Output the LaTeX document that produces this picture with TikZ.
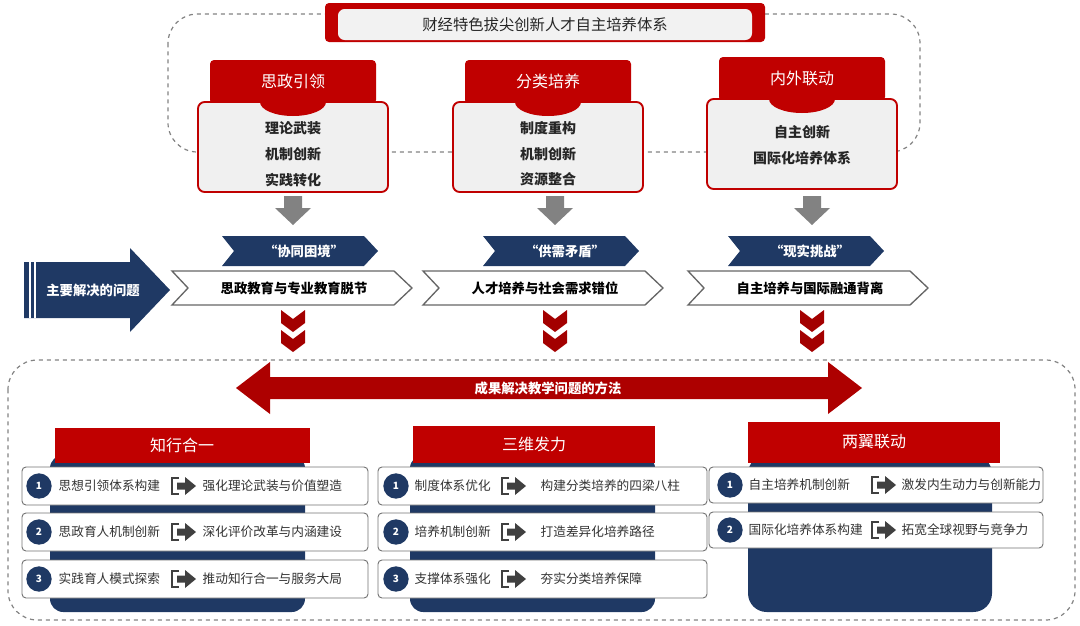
\documentclass[tikz,border=0pt]{standalone}
\usepackage{fontspec}
\setmainfont{Noto Sans CJK SC}
\usetikzlibrary{shapes.symbols}
\definecolor{zred}{RGB}{192,0,0}
\definecolor{znavy}{RGB}{31,57,100}
\definecolor{zgrey}{RGB}{130,130,130}
\definecolor{zicon}{RGB}{64,64,64}
\tikzset{
  dashframe/.style={draw=zgrey,dashed,line width=0.9pt,rounded corners=22},
  redhead/.style={fill=zred,draw=none},
  cardbox/.style={draw=zred,fill=white!94!black,line width=1.4pt,rounded corners=5},
  cardtext/.style={font=\fontsize{10.5}{12}\selectfont\bfseries,text=black!85},
  headtext/.style={font=\fontsize{12}{14}\selectfont,text=white},
  rowbox/.style={draw=black!55,fill=white,line width=0.7pt,rounded corners=3},
  rowtext/.style={font=\fontsize{9.5}{11}\selectfont,text=black!80,anchor=west},
  numdot/.style={circle,fill=znavy,text=white,inner sep=0pt,minimum size=19pt,font=\fontsize{7.5}{9}\selectfont\bfseries},
  boldtext/.style={font=\fontsize{10}{12}\selectfont\bfseries}
}
\newcommand\goicon[2]{%
  \begin{scope}[shift={(#1,#2)}]
    \draw[zicon,line width=2.2pt] (7,-8) -- (0,-8) -- (0,8) -- (7,8);
    \fill[zicon] (5,-3.5) -- (13,-3.5) -- (13,-9) -- (24,0) -- (13,9) -- (13,3.5) -- (5,3.5) -- cycle;
  \end{scope}}
\begin{document}
\begin{tikzpicture}[x=0.75pt,y=0.75pt,yscale=-1,xscale=1]
\useasboundingbox (0,0) rectangle (1080,625);

%Upper frame and title
\draw[dashframe] (168,14) rectangle (920,152);
\fill[zred,rounded corners=3] (325,3) rectangle (765,42);
\fill[white!95!black,rounded corners=5] (338,9) rectangle (752,40);
\node[font=\fontsize{11.5}{13}\selectfont,text=black!85] (title) at (545,25) {财经特色拔尖创新人才自主培养体系};

%Cards
\foreach \cx/\cy/\name/\ttl in {293/60/sz/思政引领,548/60/fl/分类培养,802/57/nw/内外联动}{
  \fill[redhead,rounded corners=3] (\cx-83,\cy) rectangle (\cx+83,\cy+44);
  \draw[cardbox] (\cx-95,\cy+42) rectangle (\cx+95,\cy+132);
  \fill[zred] (\cx-33,\cy+42) arc (180:0:33 and 14) -- cycle;
  \node[headtext] (\name) at (\cx,\cy+21) {\ttl};
}
\node[cardtext] (sz1) at (293,128) {理论武装};
\node[cardtext] (sz2) at (293,154) {机制创新};
\node[cardtext] (sz3) at (293,180) {实践转化};
\node[cardtext] (fl1) at (548,128) {制度重构};
\node[cardtext] (fl2) at (548,154) {机制创新};
\node[cardtext] (fl3) at (548,179) {资源整合};
\node[cardtext] (nw1) at (802,132) {自主创新};
\node[cardtext] (nw2) at (802,158) {国际化培养体系};

%Grey arrows
\foreach \ax in {293,555,812}{
  \fill[zgrey] (\ax-9,196) -- (\ax+9,196) -- (\ax+9,208) -- (\ax+18,208) -- (\ax,225) -- (\ax-18,208) -- (\ax-9,208) -- cycle;
}

%Blue chevron labels
\foreach \lx/\name/\txt in {300/c1/“协同困境”,561/c2/“供需矛盾”,806/c3/“现实挑战”}{
  \fill[znavy] (\lx-78,236) -- (\lx+64,236) -- (\lx+78,251) -- (\lx+64,266) -- (\lx-78,266) -- (\lx-66,251) -- cycle;
  \node[boldtext,text=white] (\name) at (\lx+4,251) {\txt};
}

%White chevron boxes
\foreach \bx/\name/\txt in {172/p1/思政教育与专业教育脱节,423/p2/人才培养与社会需求错位,688/p3/自主培养与国际融通背离}{
  \draw[black!60,fill=white,line width=1pt] (\bx,271) -- (\bx+222,271) -- (\bx+240,288) -- (\bx+222,305) -- (\bx,305) -- (\bx+16,288) -- cycle;
  \node[boldtext,text=black] (\name) at (\bx+122,288) {\txt};
}

%Left arrow
\fill[znavy] (24,262) -- (130,262) -- (130,248) -- (170,290) -- (130,332) -- (130,318) -- (24,318) -- cycle;
\draw[white,line width=1.3pt] (30,262) -- (30,318);
\draw[white,line width=1.3pt] (35,262) -- (35,318);
\node[boldtext,text=white] (problem) at (93,290) {主要解决的问题};

%Red double chevrons
\foreach \dx in {293,555,812}{
  \foreach \dy in {310,330}{
    \fill[zred!85!black] (\dx-12,\dy) -- (\dx,\dy+9) -- (\dx+12,\dy) -- (\dx+12,\dy+13) -- (\dx,\dy+22) -- (\dx-12,\dy+13) -- cycle;
  }
}

%Lower frame
\draw[dashframe] (8,360) rectangle (1075,620);

%Double arrow
\fill[zred!90!black] (236,388) -- (270,362) -- (270,377) -- (828,377) -- (828,362) -- (862,388) -- (828,414) -- (828,399) -- (270,399) -- (270,414) -- cycle;
\node[boldtext,text=white] (method) at (548,388) {成果解决教学问题的方法};

%Column panels and headers
\fill[znavy,rounded corners=10] (50,455) rectangle (305,612);
\fill[znavy,rounded corners=10] (410,455) rectangle (655,612);
\fill[znavy,rounded corners=14] (748,455) rectangle (992,612);
\fill[redhead] (55,428) rectangle (310,463);
\fill[redhead] (413,426) rectangle (655,463);
\fill[redhead] (748,422) rectangle (1000,463);
\node[headtext] (zx) at (182,445) {知行合一};
\node[headtext] (sw) at (534,444) {三维发力};
\node[headtext] (ly) at (874,442) {两翼联动};

%Rows
\foreach \ry/\n in {486/1,532/2,579/3}{
  \draw[rowbox] (22,\ry-19) rectangle (368,\ry+19);
  \node[numdot] (a\n) at (39,\ry) {\n};
  \goicon{172}{\ry}
  \draw[rowbox] (378,\ry-19) rectangle (707,\ry+19);
  \node[numdot] (b\n) at (396,\ry) {\n};
  \goicon{502}{\ry}
}
\foreach \ry/\n in {485/1,530/2}{
  \draw[rowbox] (709,\ry-18) rectangle (1043,\ry+18);
  \node[numdot] (d\n) at (730,\ry) {\n};
  \goicon{872}{\ry}
}
\node[rowtext] (a1l) at (54,486) {思想引领体系构建};
\node[rowtext] (a1r) at (198,486) {强化理论武装与价值塑造};
\node[rowtext] (a2l) at (54,532) {思政育人机制创新};
\node[rowtext] (a2r) at (198,532) {深化评价改革与内涵建设};
\node[rowtext] (a3l) at (54,579) {实践育人模式探索};
\node[rowtext] (a3r) at (198,579) {推动知行合一与服务大局};
\node[rowtext] (b1l) at (410,486) {制度体系优化};
\node[rowtext] (b1r) at (536,486) {构建分类培养的四梁八柱};
\node[rowtext] (b2l) at (410,532) {培养机制创新};
\node[rowtext] (b2r) at (536,532) {打造差异化培养路径};
\node[rowtext] (b3l) at (410,579) {支撑体系强化};
\node[rowtext] (b3r) at (536,579) {夯实分类培养保障};
\node[rowtext] (d1l) at (744,485) {自主培养机制创新};
\node[rowtext] (d1r) at (897,485) {激发内生动力与创新能力};
\node[rowtext] (d2l) at (744,530) {国际化培养体系构建};
\node[rowtext] (d2r) at (897,530) {拓宽全球视野与竞争力};
\end{tikzpicture}
\end{document}
